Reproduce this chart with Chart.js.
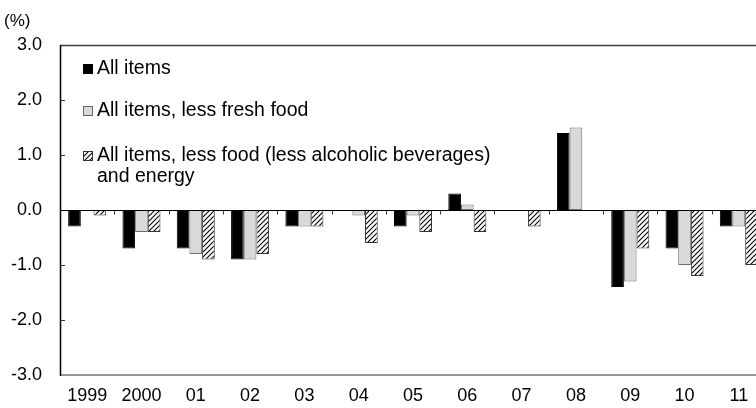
<!DOCTYPE html>
<html>
<head>
<meta charset="utf-8">
<script src="https://cdn.jsdelivr.net/npm/chart.js@4.4.1/dist/chart.umd.min.js"></script>
<style>
html,body{margin:0;padding:0;background:#fff;overflow:hidden;width:756px;height:408px;}
#wrap{position:absolute;left:0;top:0;width:772px;height:408px;}
</style>
</head>
<body>
<div id="wrap"><canvas id="c" width="772" height="408"></canvas></div>
<script>
const categories = ['1999','2000','01','02','03','04','05','06','07','08','09','10','11'];
const allItems       = [-0.3,-0.7,-0.7,-0.9,-0.3, 0.0,-0.3, 0.3, 0.0, 1.4,-1.4,-0.7,-0.3];
const lessFreshFood  = [ 0.0,-0.4,-0.8,-0.9,-0.3,-0.1,-0.1, 0.1, 0.0, 1.5,-1.3,-1.0,-0.3];
const lessFoodEnergy = [-0.1,-0.4,-0.9,-0.8,-0.3,-0.6,-0.4,-0.4,-0.3, 0.0,-0.7,-1.2,-1.0];
const seriesLabels = ['All items','All items, less fresh food','All items, less food (less alcoholic beverages)','and energy'];
const yTicks = [3,2,1,0,-1,-2,-3];
const unitLabel = '(%)';

const FONT = '"Liberation Sans", Arial, sans-serif';

function makeHatch(){
  const p = document.createElement('canvas');
  p.width = 5; p.height = 5;
  const g = p.getContext('2d');
  g.fillStyle = '#fff'; g.fillRect(0,0,5,5);
  g.strokeStyle = '#000'; g.lineWidth = 1.1;
  g.beginPath();
  g.moveTo(-1,6); g.lineTo(6,-1);
  g.moveTo(-1,1); g.lineTo(1,-1);
  g.moveTo(4,6); g.lineTo(6,4);
  g.stroke();
  return document.getElementById('c').getContext('2d').createPattern(p,'repeat');
}
const hatch = makeHatch();

const deco = {
  id:'deco',
  afterDatasetsDraw(chart){
    const ctx = chart.ctx, a = chart.chartArea;
    const x = chart.scales.x, y = chart.scales.y;
    ctx.save();
    // frame
    ctx.strokeStyle = '#404040'; ctx.lineWidth = 1.5;
    ctx.beginPath(); ctx.moveTo(a.left, a.top+0.5); ctx.lineTo(a.right, a.top+0.5); ctx.stroke();
    ctx.strokeStyle = '#999'; ctx.lineWidth = 2;
    ctx.beginPath(); ctx.moveTo(a.left, a.bottom); ctx.lineTo(a.right, a.bottom); ctx.stroke();
    ctx.strokeStyle = '#000'; ctx.lineWidth = 1.5;
    ctx.beginPath(); ctx.moveTo(a.left+0.5, a.top); ctx.lineTo(a.left+0.5, a.bottom+1); ctx.stroke();
    // zero line
    const y0 = Math.round(y.getPixelForValue(0))+0.5;
    ctx.lineWidth = 1; ctx.strokeStyle = '#000';
    ctx.beginPath(); ctx.moveTo(a.left, y0); ctx.lineTo(a.right, y0); ctx.stroke();
    // x ticks at category boundaries
    const n = categories.length;
    const w = (a.right - a.left)/n;
    ctx.strokeStyle = '#333';
    for(let i=1;i<n;i++){
      const xx = Math.round(a.left + i*w)+0.5;
      ctx.beginPath(); ctx.moveTo(xx, y0); ctx.lineTo(xx, y0+4); ctx.stroke();
    }
    // y ticks inward
    yTicks.forEach(v=>{
      if(v===3||v===-3||v===0) return;
      const yy = Math.round(y.getPixelForValue(v))+0.5;
      ctx.beginPath(); ctx.moveTo(a.left, yy); ctx.lineTo(a.left+5, yy); ctx.stroke();
    });
    // unit label
    ctx.fillStyle = '#000';
    ctx.font = '17px ' + FONT;
    ctx.textBaseline = 'middle'; ctx.textAlign = 'left';
    ctx.fillText(unitLabel, a.left-56, a.top-24);
    // legend
    ctx.font = '19.5px ' + FONT;
    const items = [
      {fill:'#000', stroke:'#000', y:69, text:[seriesLabels[0]]},
      {fill:'#d9d9d9', stroke:'#666', y:111, text:[seriesLabels[1]]},
      {fill:hatch, stroke:'#333', y:156, text:[seriesLabels[2], seriesLabels[3]]}
    ];
    items.forEach(it=>{
      ctx.fillStyle = it.fill;
      ctx.fillRect(a.left+23, it.y-5, 10, 10);
      ctx.strokeStyle = it.stroke; ctx.lineWidth = 1;
      ctx.strokeRect(a.left+23.5, it.y-4.5, 9, 9);
      ctx.fillStyle = '#000';
      it.text.forEach((t,k)=>{
        ctx.fillText(t, a.left+37, it.y + k*21);
      });
    });
    ctx.restore();
  }
};

new Chart(document.getElementById('c'), {
  type:'bar',
  data:{
    labels: categories,
    datasets:[
      {label:seriesLabels[0], data:allItems, backgroundColor:'#000', borderColor:'#000', borderWidth:1, borderSkipped:false},
      {label:seriesLabels[1], data:lessFreshFood, backgroundColor:'#d9d9d9', borderColor:'#6e6e6e', borderWidth:1, borderSkipped:false},
      {label:seriesLabels[2]+' '+seriesLabels[3], data:lessFoodEnergy, backgroundColor:hatch, borderColor:'#333', borderWidth:1, borderSkipped:false}
    ]
  },
  options:{
    responsive:false,
    animation:false,
    events:[],
    layout:{padding:{left:0, right:6, top:45, bottom:0}},
    datasets:{bar:{categoryPercentage:0.7, barPercentage:1.0}},
    plugins:{legend:{display:false}, title:{display:false}, tooltip:{enabled:false}},
    scales:{
      x:{
        grid:{display:false, drawTicks:false},
        border:{display:false},
        ticks:{color:'#000', font:{family:FONT, size:18}, padding:10, maxRotation:0, autoSkip:false},
        afterFit(s){ s.height = 33; }
      },
      y:{
        min:-3, max:3,
        grid:{display:false, drawTicks:false},
        border:{display:false},
        afterBuildTicks(s){ s.ticks = yTicks.map(v=>({value:v})); },
        ticks:{color:'#000', font:{family:FONT, size:18}, padding:18, callback:v=>v.toFixed(1)},
        afterFit(s){ s.width = 60; }
      }
    }
  },
  plugins:[deco]
});
</script>
</body>
</html>
